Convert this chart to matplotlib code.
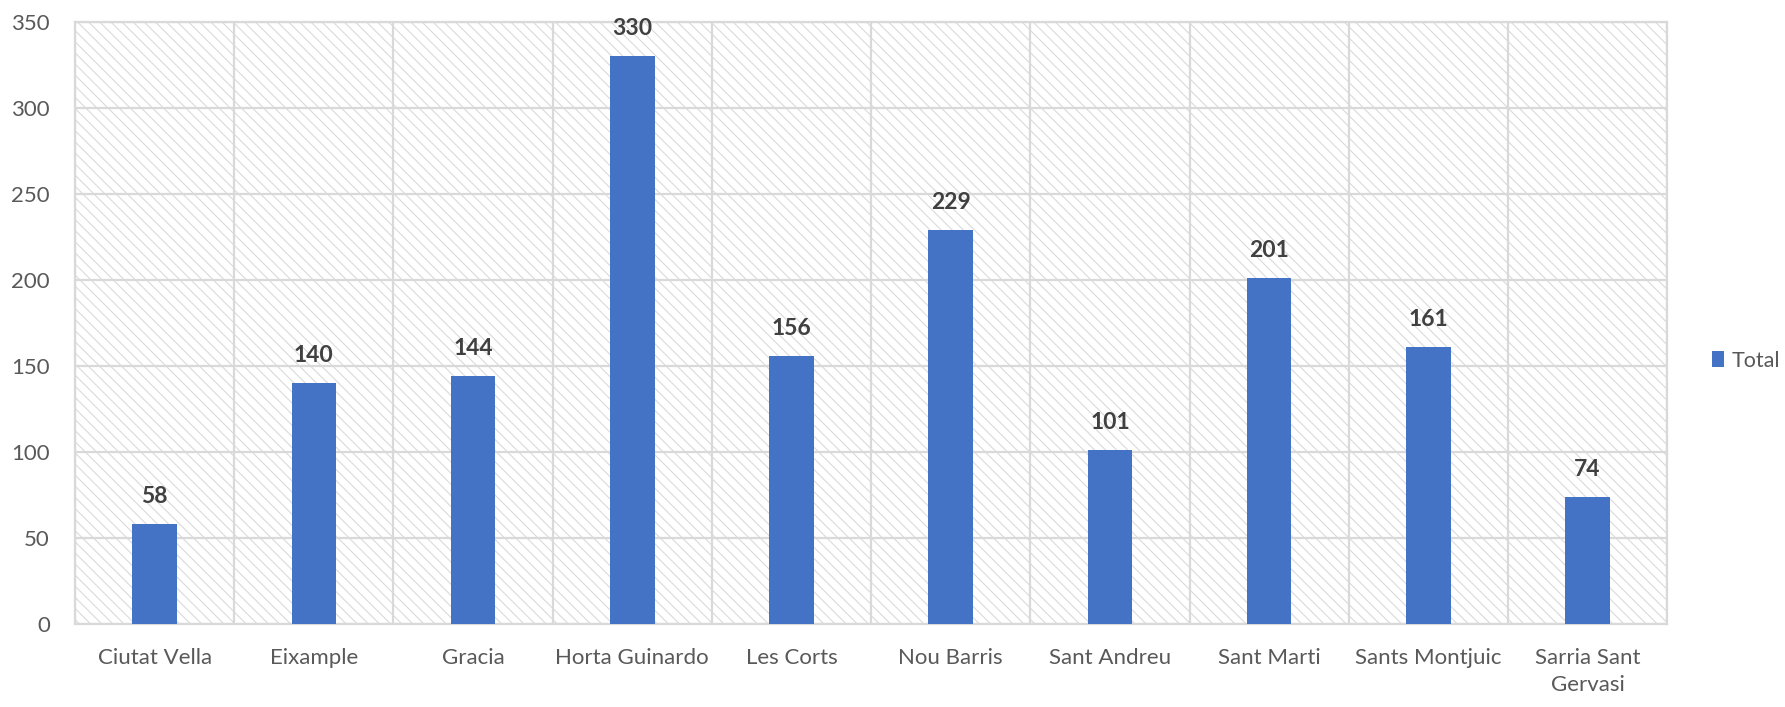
import matplotlib
matplotlib.use("Agg")
import matplotlib.pyplot as plt
from matplotlib.patches import Rectangle, Patch
import numpy as np

categories = ["Ciutat Vella", "Eixample", "Gracia", "Horta Guinardo", "Les Corts",
              "Nou Barris", "Sant Andreu", "Sant Marti", "Sants Montjuic",
              "Sarria Sant\nGervasi"]
totals = [58, 140, 144, 330, 156, 229, 101, 201, 161, 74]
y_ticks = [0, 50, 100, 150, 200, 250, 300, 350]
series_name = "Total"

plt.rcParams['font.family'] = ['Lato', 'DejaVu Sans']
plt.rcParams['hatch.linewidth'] = 0.8
plt.rcParams['hatch.color'] = '#dadada'

fig = plt.figure(figsize=(17.85, 7.07), dpi=100)
ax = fig.add_axes([0.042, 0.1174, 0.892, 0.852])

bar_color = '#4472C4'
grid_color = '#d9d9d9'
x = np.arange(len(categories))

ax.set_xlim(-0.5, len(categories) - 0.5)
ax.set_ylim(0, 350)

# hatched background
bg = Rectangle((0, 0), 1, 1, transform=ax.transAxes, facecolor='white',
               edgecolor='#dadada', hatch='\\\\\\', linewidth=0, zorder=0)
ax.add_patch(bg)

for yv in y_ticks:
    ax.axhline(yv, color=grid_color, lw=1.6, zorder=1)
for xv in np.arange(-0.5, len(categories), 1.0):
    ax.axvline(xv, color=grid_color, lw=1.6, zorder=1)

bars = ax.bar(x, totals, width=0.28, color=bar_color, zorder=3, label=series_name)
for xi, v in zip(x, totals):
    ax.annotate(str(v), (xi, v), xytext=(0, 15), textcoords='offset points',
                ha='center', va='baseline', fontsize=16.5, fontweight='bold',
                color='#404040')

for s in ax.spines.values():
    s.set_color(grid_color)
    s.set_linewidth(1.6)

ax.set_yticks(y_ticks)
ax.set_yticklabels([str(t) for t in y_ticks])
ax.set_xticks(x)
ax.set_xticklabels(categories, linespacing=1.45)
ax.tick_params(axis='both', length=0, labelsize=16, colors='#595959')
ax.tick_params(axis='y', pad=18)
ax.tick_params(axis='x', pad=17)

fig.legend(handles=[Patch(facecolor=bar_color, label=series_name)],
           loc='center left', bbox_to_anchor=(0.954, 0.49), frameon=False,
           fontsize=15.5, handlelength=0.6, handleheight=0.75, handletextpad=0.35,
           labelcolor='#595959', borderpad=0.2, borderaxespad=0.2)

fig.savefig("out.png", dpi=100)
